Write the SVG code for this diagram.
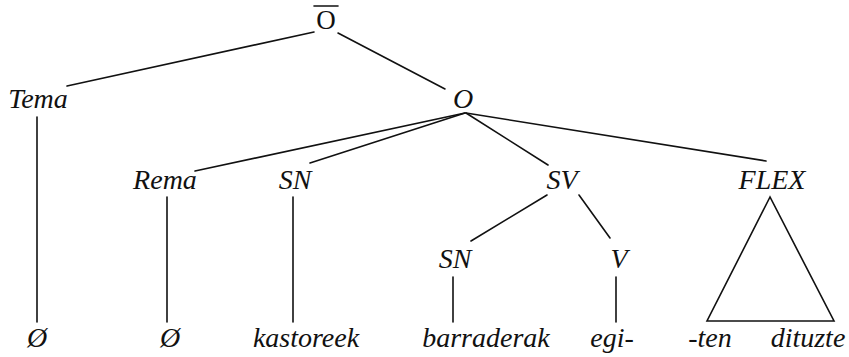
<svg xmlns="http://www.w3.org/2000/svg" width="849" height="357" viewBox="0 0 849 357">
  <style>
    .lbl { font-family: "Liberation Serif", "Times New Roman", serif; font-style: italic; font-size: 28px; fill: #111; text-anchor: middle; }
    .up { font-style: normal; font-size: 27px; }
    .edge { stroke: #111; stroke-width: 1.6; fill: none; stroke-linecap: round; }
  </style>
  <rect width="849" height="357" fill="#ffffff"/>

  <!-- branches of the tree -->
  <g id="connectors">
    <line class="edge" x1="314" y1="32" x2="67" y2="86"/>
    <line class="edge" x1="338" y1="33" x2="445" y2="89"/>
    <line class="edge" x1="37" y1="117" x2="37" y2="322"/>
    <line class="edge" x1="465" y1="113" x2="195" y2="171"/>
    <line class="edge" x1="465" y1="113" x2="310" y2="163"/>
    <line class="edge" x1="466" y1="113" x2="548" y2="165"/>
    <line class="edge" x1="466" y1="113" x2="766" y2="161"/>
    <line class="edge" x1="167" y1="197" x2="167" y2="322"/>
    <line class="edge" x1="293" y1="197" x2="293" y2="322"/>
    <line class="edge" x1="547" y1="195" x2="471" y2="241"/>
    <line class="edge" x1="579" y1="195" x2="610" y2="238"/>
    <line class="edge" x1="453" y1="277" x2="453" y2="322"/>
    <line class="edge" x1="616" y1="277" x2="616" y2="322"/>
    <polygon class="edge" points="770,197 707,321 834,321"/>
  </g>

  <g id="node-obar">
    <text class="lbl up" x="326" y="29">O</text>
    <line class="edge" x1="314" y1="6" x2="338" y2="6"/>
  </g>
  <g id="node-tema"><text class="lbl" x="38" y="108">Tema</text></g>
  <g id="node-o"><text class="lbl" x="463" y="108">O</text></g>
  <g id="node-rema"><text class="lbl" x="165" y="189">Rema</text></g>
  <g id="node-sn1"><text class="lbl" x="295" y="189">SN</text></g>
  <g id="node-sv"><text class="lbl" x="562" y="189">SV</text></g>
  <g id="node-flex"><text class="lbl" x="772" y="189">FLEX</text></g>
  <g id="node-sn2"><text class="lbl" x="455" y="268">SN</text></g>
  <g id="node-v"><text class="lbl" x="619" y="268">V</text></g>

  <g id="leaf-empty1"><text class="lbl" x="37" y="347">Ø</text></g>
  <g id="leaf-empty2"><text class="lbl" x="170" y="347">Ø</text></g>
  <g id="leaf-kastoreek"><text class="lbl" x="306" y="347">kastoreek</text></g>
  <g id="leaf-barraderak"><text class="lbl" x="486" y="347">barraderak</text></g>
  <g id="leaf-egi"><text class="lbl" x="612" y="347">egi-</text></g>
  <g id="leaf-ten"><text class="lbl" x="710" y="347">-ten</text></g>
  <g id="leaf-dituzte"><text class="lbl" x="808" y="347">dituzte</text></g>
</svg>
